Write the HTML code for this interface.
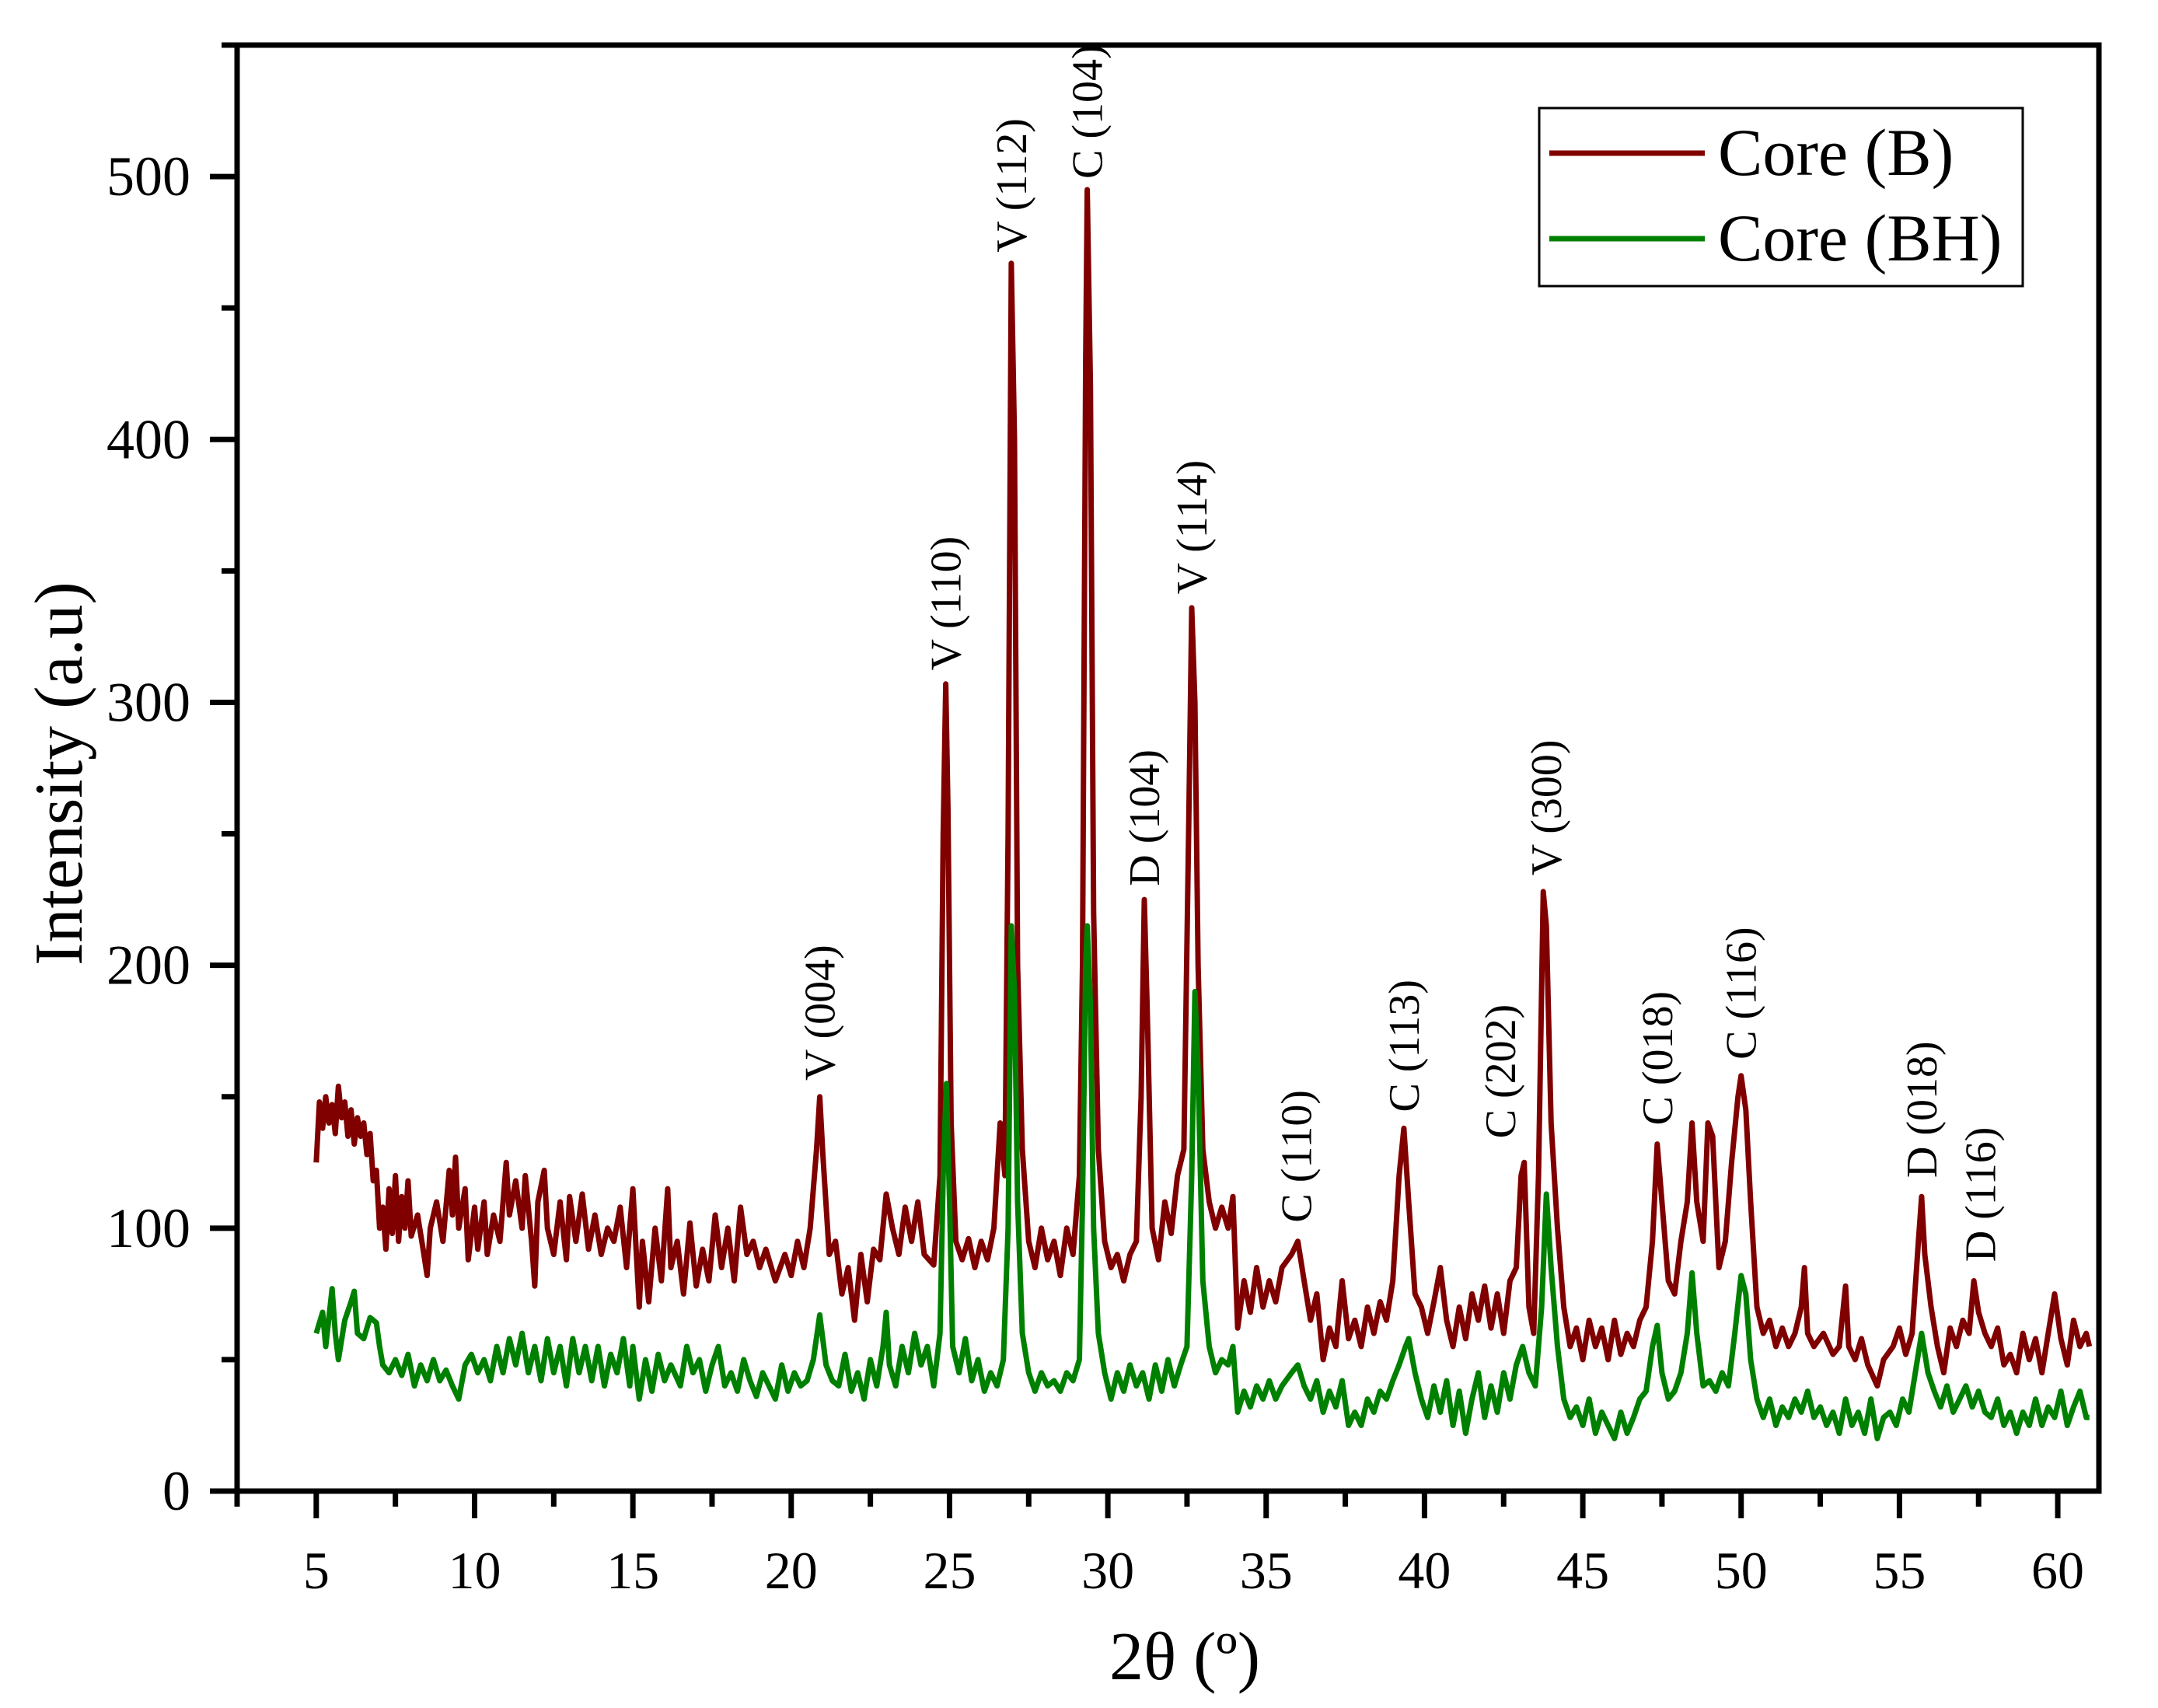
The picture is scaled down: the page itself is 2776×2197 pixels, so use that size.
<!DOCTYPE html>
<html><head><meta charset="utf-8"><style>
html,body{margin:0;padding:0;background:#fff;}
svg{display:block;}
text{font-family:"Liberation Serif","DejaVu Serif",serif;fill:#000;}
</style></head><body>
<svg id="chart" width="2776" height="2197" viewBox="0 0 2776 2197" xmlns="http://www.w3.org/2000/svg"></svg>
<script>
const xTicks=[5,10,15,20,25,30,35,40,45,50,55,60];
const yTicks=[0,100,200,300,400,500];
const bX=[5.0,5.1,5.2,5.3,5.4,5.5,5.6,5.7,5.8,5.9,6.0,6.1,6.2,6.3,6.4,6.5,6.6,6.7,6.8,6.9,7.0,7.1,7.2,7.3,7.4,7.5,7.6,7.7,7.8,7.9,8.0,8.2,8.4,8.5,8.6,8.8,9.0,9.2,9.3,9.4,9.5,9.7,9.8,10.0,10.1,10.3,10.4,10.6,10.8,11.0,11.1,11.3,11.5,11.6,11.8,11.9,12.0,12.2,12.3,12.5,12.7,12.9,13.0,13.2,13.4,13.6,13.8,14.0,14.2,14.4,14.6,14.8,15.0,15.2,15.3,15.5,15.7,15.9,16.1,16.2,16.4,16.6,16.8,17.0,17.2,17.4,17.6,17.8,18.0,18.2,18.4,18.6,18.8,19.0,19.2,19.5,19.8,20.0,20.2,20.4,20.6,20.8,20.9,21.0,21.2,21.4,21.6,21.8,22.0,22.2,22.4,22.6,22.8,23.0,23.2,23.4,23.6,23.8,24.0,24.2,24.5,24.7,24.8,24.88,24.95,25.05,25.2,25.4,25.6,25.8,26.0,26.2,26.4,26.6,26.75,26.85,26.95,27.05,27.15,27.3,27.5,27.7,27.9,28.1,28.3,28.5,28.7,28.9,29.1,29.2,29.3,29.35,29.45,29.55,29.7,29.9,30.1,30.3,30.5,30.7,30.9,31.05,31.15,31.25,31.4,31.6,31.8,32.0,32.2,32.4,32.55,32.65,32.75,32.85,33.0,33.2,33.4,33.6,33.8,33.95,34.1,34.3,34.5,34.7,34.9,35.1,35.3,35.5,35.8,36.0,36.2,36.4,36.6,36.8,37.0,37.2,37.4,37.6,37.8,38.0,38.2,38.4,38.6,38.8,39.0,39.2,39.35,39.5,39.7,39.9,40.1,40.3,40.5,40.7,40.9,41.1,41.3,41.5,41.7,41.9,42.1,42.3,42.5,42.7,42.9,43.05,43.15,43.3,43.45,43.6,43.75,43.85,44.0,44.2,44.4,44.6,44.8,45.0,45.2,45.4,45.6,45.8,46.0,46.2,46.4,46.6,46.8,47.0,47.2,47.35,47.5,47.7,47.9,48.1,48.3,48.45,48.6,48.8,48.95,49.1,49.3,49.5,49.7,49.9,50.0,50.15,50.3,50.5,50.7,50.9,51.1,51.3,51.5,51.7,51.9,52.0,52.1,52.3,52.6,52.9,53.1,53.3,53.4,53.6,53.8,54.0,54.3,54.5,54.8,55.0,55.2,55.4,55.6,55.7,55.8,56.0,56.2,56.4,56.6,56.8,57.0,57.2,57.35,57.5,57.7,57.9,58.1,58.3,58.5,58.7,58.9,59.1,59.3,59.5,59.7,59.9,60.1,60.3,60.5,60.7,60.9,61.0];
const bY=[125,148,138,150,140,147,136,154,142,148,135,145,132,142,135,140,128,136,118,122,100,108,92,115,98,120,95,112,100,118,97,105,90,82,100,110,95,122,105,127,100,115,88,108,92,110,90,105,95,125,105,118,100,120,95,78,110,122,100,90,110,88,112,95,113,92,105,90,100,95,108,85,115,70,95,72,100,80,115,85,95,75,102,78,92,80,105,85,100,80,108,90,95,85,92,80,90,82,95,85,100,130,150,128,90,95,75,85,65,90,72,92,88,113,100,90,108,95,110,90,86,120,250,307,260,140,95,88,96,85,95,88,100,140,120,250,467,400,200,130,95,85,100,88,95,82,100,90,120,200,430,495,420,220,130,95,85,90,80,90,95,150,225,180,100,88,110,98,120,130,250,336,300,200,130,110,100,108,100,112,62,80,68,85,70,80,72,85,90,95,80,65,75,50,62,55,80,58,65,55,70,60,72,65,80,120,138,110,75,70,60,72,85,65,55,70,58,75,65,78,62,75,60,80,85,120,125,70,60,120,228,215,140,100,70,55,62,50,65,55,62,50,65,52,60,55,65,70,95,132,110,80,75,95,110,140,110,95,140,135,85,95,125,150,158,145,110,70,60,65,55,62,55,60,70,85,60,55,60,52,55,78,55,50,58,48,40,50,55,62,52,60,95,112,90,70,55,45,62,55,65,60,80,68,60,55,62,48,52,45,60,50,58,45,60,75,58,48,65,55,60,55];
const bhX=[5.0,5.2,5.3,5.5,5.6,5.7,5.9,6.1,6.2,6.3,6.5,6.7,6.9,7.0,7.1,7.3,7.5,7.7,7.9,8.1,8.3,8.5,8.7,8.9,9.1,9.3,9.5,9.7,9.9,10.1,10.3,10.5,10.7,10.9,11.1,11.3,11.5,11.7,11.9,12.1,12.3,12.5,12.7,12.9,13.1,13.3,13.5,13.7,13.9,14.1,14.3,14.5,14.7,14.9,15.0,15.2,15.4,15.6,15.8,16.0,16.2,16.5,16.7,16.9,17.1,17.3,17.5,17.7,17.9,18.1,18.3,18.5,18.7,18.9,19.1,19.3,19.5,19.7,19.9,20.1,20.3,20.5,20.7,20.9,21.1,21.3,21.5,21.7,21.9,22.1,22.3,22.5,22.7,22.9,23.0,23.1,23.3,23.5,23.7,23.9,24.1,24.3,24.5,24.7,24.8,24.9,25.0,25.1,25.3,25.5,25.7,25.9,26.1,26.3,26.5,26.7,26.85,26.95,27.05,27.15,27.3,27.5,27.7,27.9,28.1,28.3,28.5,28.7,28.9,29.1,29.2,29.3,29.35,29.45,29.55,29.7,29.9,30.1,30.3,30.5,30.7,30.9,31.1,31.3,31.5,31.7,31.9,32.1,32.3,32.5,32.65,32.75,32.85,33.0,33.2,33.4,33.6,33.8,33.95,34.1,34.3,34.5,34.7,34.9,35.1,35.3,35.5,35.8,36.0,36.2,36.4,36.6,36.8,37.0,37.2,37.4,37.6,37.8,38.0,38.2,38.4,38.6,38.8,39.0,39.2,39.4,39.5,39.7,39.9,40.1,40.3,40.5,40.7,40.9,41.1,41.3,41.5,41.7,41.9,42.1,42.3,42.5,42.7,42.9,43.1,43.3,43.5,43.7,43.85,44.0,44.2,44.4,44.6,44.8,45.0,45.2,45.4,45.6,45.8,46.0,46.2,46.4,46.6,46.8,47.0,47.2,47.35,47.5,47.7,47.9,48.1,48.3,48.45,48.6,48.8,49.0,49.2,49.4,49.6,49.8,50.0,50.15,50.3,50.5,50.7,50.9,51.1,51.3,51.5,51.7,51.9,52.1,52.3,52.5,52.7,52.9,53.1,53.3,53.5,53.7,53.9,54.1,54.3,54.5,54.7,54.9,55.1,55.3,55.5,55.7,55.9,56.1,56.3,56.5,56.7,56.9,57.1,57.3,57.5,57.7,57.9,58.1,58.3,58.5,58.7,58.9,59.1,59.3,59.5,59.7,59.9,60.1,60.3,60.5,60.7,60.9,61.0];
const bhY=[60,68,55,77,60,50,65,72,76,60,58,66,64,55,48,45,50,44,52,40,48,42,50,42,46,40,35,48,52,45,50,42,55,45,58,48,60,45,55,42,58,45,55,40,58,45,55,42,55,40,52,45,58,40,55,35,50,38,52,42,48,40,55,45,50,38,48,55,40,45,38,50,42,36,45,40,35,48,38,45,40,42,50,67,48,42,40,52,38,45,35,50,40,55,68,48,40,55,45,60,48,55,40,60,120,155,110,55,45,58,42,50,38,45,40,50,100,215,190,110,60,45,38,45,40,42,38,45,42,50,110,200,215,185,100,60,45,35,45,38,48,40,45,35,48,38,50,40,48,55,120,190,160,80,55,45,50,48,55,30,38,32,40,35,42,35,40,45,48,40,35,42,30,38,32,42,25,30,25,35,30,38,35,42,48,55,58,45,35,28,40,30,42,25,38,22,35,45,28,40,30,45,35,48,55,45,40,70,113,85,55,35,28,32,25,35,22,30,25,20,30,22,28,35,38,55,63,45,35,38,45,60,83,60,40,42,38,45,40,60,82,75,50,35,28,35,25,32,28,35,30,38,28,32,25,30,22,35,25,30,22,35,20,28,30,25,35,30,45,60,45,38,32,40,30,35,40,32,38,30,28,35,25,30,22,30,25,35,25,32,28,38,25,32,38,28,28];
const peakLabels=["V (004)","V (110)","V (112)","C (104)","D (104)","V (114)","C (110)","C (113)","C (202)","V (300)","C (018)","C (116)","D (018)","D (116)"];
const peakPos=[20.9,24.88,26.95,29.35,31.15,32.65,35.95,39.35,42.4,43.85,47.35,50.0,55.7,57.55];
const peakVal=[152,308,467,495,226,337,98,140,130,230,135,160,115,83];

const NS="http://www.w3.org/2000/svg";
const svg=document.getElementById('chart');
const L=305,R=2700,T=58,B=1918;
const XMIN=2.5,XMAX=61.3,YMIN=0,YMAX=550;
const sx=v=>L+(v-XMIN)/(XMAX-XMIN)*(R-L);
const sy=v=>B-(v-YMIN)/(YMAX-YMIN)*(B-T);
function mk(tag,attrs,parent){const e=document.createElementNS(NS,tag);for(const k in attrs)e.setAttribute(k,attrs[k]);(parent||svg).appendChild(e);return e;}

function series(xs,ys,color,name){
  let d='';xs.forEach((x,i)=>{d+=(i?'L':'M')+sx(x).toFixed(1)+' '+sy(ys[i]).toFixed(1);});
  const p=mk('path',{d:d,fill:'none',stroke:color,'stroke-width':7,'stroke-linejoin':'round'});
  
  
}
series(bX,bY,'#800000','series-core-b');
series(bhX,bhY,'#008000','series-core-bh');

const fr=mk('rect',{x:L,y:T,width:R-L,height:B-T,fill:'none',stroke:'#000','stroke-width':7});



for(let v=2.5;v<=61.3;v+=2.5){
  const major=Math.abs(v%5)<1e-6;
  const t=mk('line',{x1:sx(v),x2:sx(v),y1:B,y2:B+(major?35:20),stroke:'#000','stroke-width':7});
  
  
}
xTicks.forEach(v=>{
  const t=mk('text',{x:sx(v),y:2043,'font-size':68,'text-anchor':'middle'});
  t.textContent=v;
  
  
});
for(let v=0;v<=550;v+=50){
  const major=v%100===0;
  const t=mk('line',{x1:L,x2:L-(major?35:20),y1:sy(v),y2:sy(v),stroke:'#000','stroke-width':7});
  
  
}
yTicks.forEach(v=>{
  const t=mk('text',{x:245,y:sy(v)+24,'font-size':72,'text-anchor':'end'});
  t.textContent=v;
  
  
});
const yt=mk('text',{x:0,y:0,'font-size':88,'text-anchor':'middle',transform:'translate(105,995) rotate(-90)'});
yt.textContent='Intensity (a.u)';


const xt=mk('text',{x:1524,y:2160,'font-size':88,'text-anchor':'middle'});
xt.textContent='2θ (º)';



peakLabels.forEach((s,i)=>{
  const x=sx(peakPos[i]),y=sy(peakVal[i])-14;
  const t=mk('text',{x:0,y:0,'font-size':56,'text-anchor':'start',transform:`translate(${x+19},${y}) rotate(-90)`});
  t.textContent=s;
  
  
});

const lg=mk('g',{});


mk('rect',{x:1980,y:139,width:622,height:229,fill:'#fff',stroke:'#000','stroke-width':3},lg);
const ents=[['Core (B)','#800000',197],['Core (BH)','#008000',307]];
ents.forEach(e=>{
  const ln=mk('line',{x1:1993,x2:2193,y1:e[2],y2:e[2],stroke:e[1],'stroke-width':7},lg);
  
  
  const t=mk('text',{x:2210,y:e[2]+28,'font-size':86},lg);
  t.textContent=e[0];
  
  
});
</script>
</body></html>
